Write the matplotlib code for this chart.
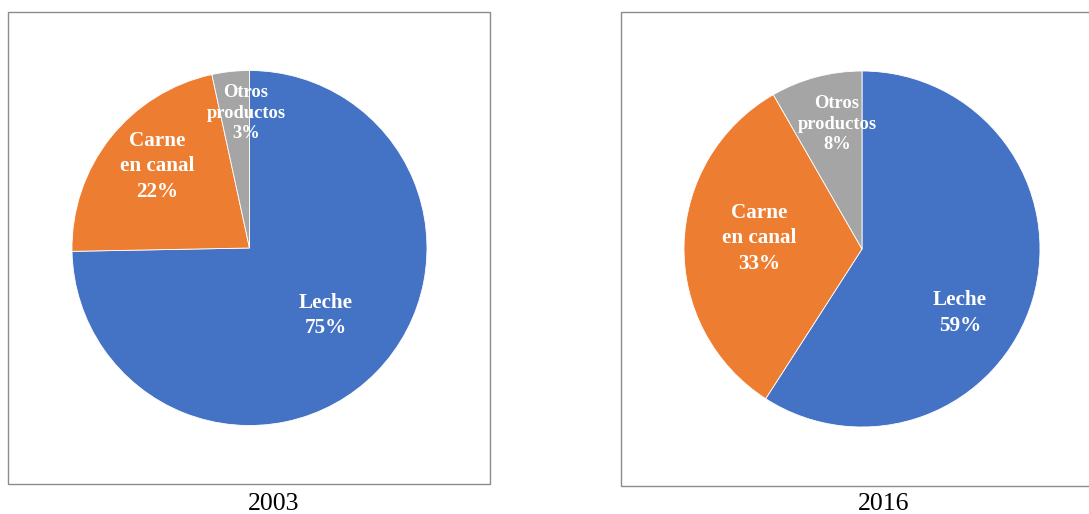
import matplotlib.pyplot as plt
from matplotlib.patches import Rectangle

categories = ["Leche", "Carne\nen canal", "Otros\nproductos"]
years = ["2003", "2016"]
values_2003 = [74.7, 21.9, 3.4]
values_2016 = [59.1, 32.6, 8.3]
colors = ["#4472C4", "#ED7D31", "#A5A5A5"]

# label spots inside each pie (unit circle coords)
label_pos = {
    "2003": [(0.43, -0.38), (-0.52, 0.46), (-0.02, 0.76)],
    "2016": [(0.55, -0.36), (-0.58, 0.06), (-0.14, 0.70)],
}
label_size = [15.2, 15.2, 13.3]
label_space = [1.36, 1.36, 1.27]

W, H = 1089, 514
fig = plt.figure(figsize=(W / 100, H / 100), dpi=100)
plt.rcParams["font.family"] = ["Liberation Serif", "DejaVu Serif"]

# panel frames (px: x0, y0_top, x1, y1_bottom)
frames = [(8, 12, 490, 484), (621, 12, 1100, 486)]
for x0, y0, x1, y1 in frames:
    fig.patches.append(Rectangle((x0 / W, 1 - y1 / H), (x1 - x0) / W, (y1 - y0) / H,
                                 transform=fig.transFigure, fill=False,
                                 edgecolor="#8c8c8c", linewidth=1.0))

# pie centres and radius in px
pies = [(249.5, 248, 177.5), (862, 249, 178)]
data = [values_2003, values_2016]
year_x = [274, 884]

for (cx, cy, r), vals, year, yx in zip(pies, data, years, year_x):
    ax = fig.add_axes([(cx - r) / W, 1 - (cy + r) / H, 2 * r / W, 2 * r / H])
    ax.pie(vals, colors=colors, startangle=90, counterclock=False,
           wedgeprops=dict(edgecolor="white", linewidth=0.6))
    ax.set_xlim(-1, 1)
    ax.set_ylim(-1, 1)
    for (lx, ly), cat, v, fs, ls in zip(label_pos[year], categories, vals,
                                        label_size, label_space):
        ax.text(lx, ly, f"{cat}\n{round(v)}%", ha="center", va="center",
                color="white", fontweight="bold", fontsize=fs, linespacing=ls)
    fig.text(yx / W, 1 - 504 / H, year, ha="center", va="center", fontsize=18.5)

fig.savefig("out.png", dpi=100)
